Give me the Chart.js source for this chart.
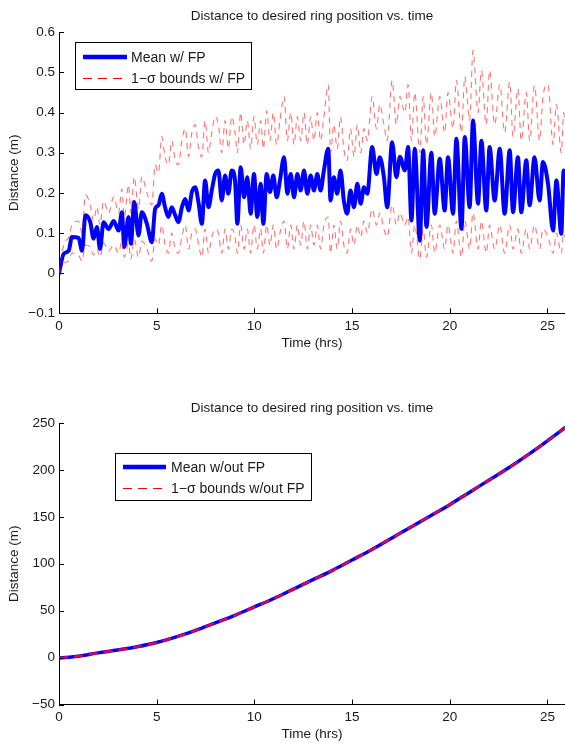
<!DOCTYPE html>
<html><head><meta charset="utf-8">
<script src="https://cdn.jsdelivr.net/npm/chart.js@4.4.1/dist/chart.umd.min.js"></script>
<style>
html,body{margin:0;padding:0;background:#fff;overflow:hidden;}
#wrap{position:relative;width:565px;height:743px;}
canvas{position:absolute;left:0;top:0;}
</style></head><body>
<div id="wrap"><canvas id="c1" width="565" height="743"></canvas><canvas id="c2" width="565" height="743"></canvas></div>
<script>
const titleText = 'Distance to desired ring position vs. time';
const xTitle = 'Time (hrs)';
const yTitle = 'Distance (m)';
const xTickValues = [0,5,10,15,20,25];
const xTickLabels = ['0','5','10','15','20','25'];
const yTickValuesTop = [-0.1,0,0.1,0.2,0.3,0.4,0.5,0.6];
const yTickLabelsTop = ['\u22120.1','0','0.1','0.2','0.3','0.4','0.5','0.6'];
const yTickValuesBottom = [-50,0,50,100,150,200,250];
const yTickLabelsBottom = ['\u221250','0','50','100','150','200','250'];

// ---- top panel: with FP ----
const timeTop = [
 0,0.24,0.5,0.66,1.0,1.18,1.35,1.6,1.77,1.94,
 2.1,2.28,2.54,2.8,3.05,3.22,3.34,3.56,3.68,3.85,
 4.07,4.24,4.5,4.75,4.92,5.09,
 5.26,5.43,5.6,5.77,5.95,6.11,6.29,6.46,6.63,6.8,
 6.97,7.15,7.31,7.48,7.65,7.82,7.99,8.16,8.33,8.5,
 8.67,8.84,9.01,9.13,9.3,9.47,9.64,9.81,9.98,10.15,
 10.32,10.46,10.63,10.8,10.97,11.14,11.31,11.52,11.69,11.86,
 12.03,12.2,12.37,12.54,12.71,12.88,13.05,13.22,13.39,13.56,
 13.78,13.9,14.07,14.24,14.41,14.58,14.75,14.92,15.1,15.27,
 15.44,15.61,15.78,16.03,16.25,16.42,16.63,16.8,17.05,17.27,
 17.45,17.7,17.87,18.04,18.21,18.47,18.64,18.81,
 19.06,19.23,19.49,19.74,19.91,20.17,20.34,20.6,20.77,21.02,
 21.19,21.45,21.62,21.87,22.04,22.3,22.56,22.81,23.07,23.24,
 23.49,23.66,23.92,24.09,24.34,24.6,24.77,25.03,25.29,25.46,
 25.71,25.83,25.9];
const meanFP = [
 0,0.048,0.056,0.09,0.088,0.056,0.144,0.127,0.086,0.115,
 0.06,0.127,0.11,0.13,0.106,0.152,0.065,0.14,0.073,0.177,
 0.094,0.152,0.123,0.077,0.16,0.169,
 0.198,0.164,0.14,0.164,0.144,0.127,0.164,0.185,0.156,0.202,
 0.214,0.173,0.123,0.231,0.164,0.206,0.247,0.256,0.181,0.243,
 0.198,0.256,0.231,0.123,0.264,0.189,0.239,0.148,0.247,0.14,
 0.223,0.123,0.247,0.202,0.243,0.189,0.231,0.289,0.198,0.247,
 0.189,0.247,0.206,0.256,0.198,0.243,0.206,0.247,0.206,0.256,
 0.31,0.181,0.239,0.198,0.256,0.181,0.148,0.206,0.164,0.223,
 0.173,0.214,0.198,0.314,0.247,0.289,0.239,0.164,0.326,0.239,
 0.29,0.256,0.314,0.131,0.31,0.081,0.306,0.115,
 0.30,0.148,0.285,0.156,0.289,0.148,0.335,0.11,0.339,0.164,
 0.38,0.173,0.33,0.156,0.314,0.181,0.31,0.148,0.306,0.152,
 0.289,0.152,0.281,0.169,0.289,0.181,0.277,0.223,0.106,0.231,
 0.098,0.256,0.22];
const upperFP = [
 0,0.07,0.09,0.12,0.13,0.10,0.195,0.17,0.13,0.165,
 0.12,0.18,0.15,0.19,0.15,0.21,0.14,0.22,0.15,0.24,
 0.16,0.24,0.2,0.17,0.27,0.25,
 0.34,0.29,0.27,0.33,0.28,0.27,0.33,0.36,0.29,0.35,
 0.37,0.31,0.29,0.38,0.3,0.35,0.39,0.37,0.3,0.38,
 0.31,0.39,0.35,0.3,0.4,0.32,0.38,0.31,0.39,0.32,
 0.38,0.31,0.405,0.33,0.4,0.32,0.38,0.44,0.33,0.4,
 0.32,0.39,0.33,0.4,0.32,0.39,0.33,0.4,0.33,0.39,
 0.47,0.3,0.37,0.31,0.39,0.31,0.28,0.36,0.29,0.37,
 0.3,0.36,0.33,0.44,0.36,0.42,0.37,0.33,0.48,0.37,
 0.44,0.4,0.47,0.33,0.45,0.3,0.44,0.32,
 0.45,0.34,0.44,0.35,0.45,0.36,0.48,0.35,0.49,0.38,
 0.555,0.4,0.505,0.37,0.505,0.37,0.47,0.35,0.476,0.34,
 0.46,0.33,0.45,0.33,0.467,0.33,0.44,0.47,0.32,0.42,
 0.3,0.4,0.38];
const lowerFP = [
 0,0.025,0.03,0.05,0.045,0.03,0.07,0.065,0.045,0.06,
 0.04,0.075,0.055,0.07,0.05,0.08,0.04,0.075,0.035,0.085,
 0.04,0.08,0.06,0.03,0.085,0.07,
 0.12,0.07,0.05,0.1,0.06,0.05,0.09,0.12,0.06,0.1,
 0.11,0.07,0.04,0.11,0.05,0.09,0.11,0.1,0.05,0.11,
 0.06,0.11,0.09,0.05,0.12,0.06,0.11,0.05,0.12,0.06,
 0.11,0.05,0.12,0.07,0.12,0.06,0.1,0.13,0.06,0.12,
 0.06,0.12,0.07,0.13,0.06,0.12,0.07,0.12,0.06,0.12,
 0.14,0.05,0.12,0.06,0.13,0.07,0.05,0.11,0.07,0.12,
 0.09,0.13,0.1,0.16,0.12,0.15,0.11,0.09,0.17,0.12,
 0.15,0.12,0.14,0.05,0.12,0.035,0.11,0.04,
 0.12,0.05,0.12,0.06,0.12,0.05,0.13,0.04,0.13,0.06,
 0.15,0.06,0.13,0.05,0.12,0.06,0.12,0.05,0.12,0.06,
 0.11,0.05,0.11,0.06,0.12,0.06,0.11,0.09,0.05,0.1,
 0.05,0.1,0.09];

// ---- bottom panel: without FP ----
const timeBottom = [0,1,2,3,4,5,6,7,8,9,10,11,12,13,14,15,16,17,18,19,20,21,22,23,24,25,25.9];
const meanNoFP  = [-0.5,1.5,5,8,11.5,16,22,29,37,45,54,63,73,83,93,104,115,127,139,151,163,176,189,202,216,231,245];
const upperNoFP = [0,2,5.5,8.5,12,16.5,22.5,29.5,37.5,45.5,54.5,63.5,73.5,83.5,93.5,104.5,115.5,127.5,139.5,151.5,163.5,176.5,189.5,202.5,216.5,231.5,245.5];
const lowerNoFP = [-1,1,4.5,7.5,11,15.5,21.5,28.5,36.5,44.5,53.5,62.5,72.5,82.5,92.5,103.5,114.5,126.5,138.5,150.5,162.5,175.5,188.5,201.5,215.5,230.5,244.5];

const FONT = "'Liberation Sans', Arial, Helvetica, sans-serif";
const TXT = '#1a1a1a';
const pts = (xs, ys) => xs.map((x, i) => ({x: x, y: ys[i]}));

const titlePlugin = {
  id: 'axTitle',
  afterDraw(chart, args, o) {
    const ctx = chart.ctx, ca = chart.chartArea;
    ctx.save();
    ctx.font = '13.5px ' + FONT; ctx.fillStyle = TXT;
    ctx.textAlign = 'center'; ctx.textBaseline = 'middle';
    ctx.fillText(o.text, (ca.left + ca.right) / 2, o.y);
    ctx.restore();
  }
};
const tickPlugin = {
  id: 'inTicks',
  afterDraw(chart) {
    const ctx = chart.ctx, ca = chart.chartArea, sx = chart.scales.x, sy = chart.scales.y;
    ctx.save();
    ctx.strokeStyle = '#000'; ctx.lineWidth = 1; ctx.setLineDash([]);
    ctx.beginPath();
    sx.ticks.forEach(t => { const p = Math.round(sx.getPixelForValue(t.value)) + 0.5; ctx.moveTo(p, ca.bottom); ctx.lineTo(p, ca.bottom - 5); });
    sy.ticks.forEach(t => { const p = Math.round(sy.getPixelForValue(t.value)) + 0.5; ctx.moveTo(ca.left, p); ctx.lineTo(ca.left + 5, p); });
    ctx.stroke();
    ctx.restore();
  }
};
const legendPlugin = {
  id: 'boxLegend',
  afterDraw(chart, args, o) {
    const ctx = chart.ctx;
    ctx.save();
    ctx.fillStyle = '#fff'; ctx.fillRect(o.x, o.y, o.w, o.h);
    ctx.strokeStyle = '#000'; ctx.lineWidth = 1; ctx.setLineDash([]);
    ctx.strokeRect(o.x + 0.5, o.y + 0.5, o.w, o.h);
    o.items.forEach((di, k) => {
      const ds = chart.data.datasets[di];
      const y = o.rows[k];
      ctx.beginPath();
      ctx.strokeStyle = ds.legendColor || ds.borderColor;
      ctx.lineWidth = ds.legendWidth || ds.borderWidth;
      ctx.setLineDash(ds.legendDash || []);
      ctx.moveTo(o.lineX0, y); ctx.lineTo(o.lineX1, y); ctx.stroke();
      ctx.setLineDash([]);
      ctx.fillStyle = TXT; ctx.font = '14px ' + FONT;
      ctx.textAlign = 'left'; ctx.textBaseline = 'middle';
      ctx.fillText(ds.label, o.textX, y + 1);
    });
    ctx.restore();
  }
};

function makeScales(yMin, yMax, yVals, yLabels) {
  const tickFont = {family: FONT, size: 13.5};
  return {
    x: {
      type: 'linear', min: 0, max: 25.9,
      afterBuildTicks: s => { s.ticks = xTickValues.map(v => ({value: v})); },
      afterFit: s => { s.height = 38; },
      grid: {display: false, drawTicks: false},
      border: {display: true, color: '#000', width: 1},
      ticks: {padding: 5, font: tickFont, color: TXT, autoSkip: false, maxRotation: 0,
              callback: (v, i) => xTickLabels[i]},
      title: {display: true, text: xTitle, font: tickFont, color: TXT, padding: {top: 0, bottom: 0}}
    },
    y: {
      type: 'linear', min: yMin, max: yMax,
      afterBuildTicks: s => { s.ticks = yVals.map(v => ({value: v})); },
      afterFit: s => { s.width = 59; },
      grid: {display: false, drawTicks: false},
      border: {display: true, color: '#000', width: 1},
      ticks: {padding: 4, font: tickFont, color: TXT, autoSkip: false,
              callback: (v, i) => yLabels[i]},
      title: {display: true, text: yTitle, font: tickFont, color: TXT, padding: {top: 6, bottom: 0}}
    }
  };
}

const common = {
  responsive: false, animation: false, devicePixelRatio: 1,
  events: [],
  plugins: {legend: {display: false}, tooltip: {enabled: false}, title: {display: false}},
  elements: {point: {radius: 0}, line: {cubicInterpolationMode: 'monotone'}}
};

new Chart(document.getElementById('c1'), {
  type: 'line',
  data: {datasets: [
    {label: 'Mean w/ FP', data: pts(timeTop, meanFP), borderColor: '#0000ff', borderWidth: 4,
     borderCapStyle: 'round', borderJoinStyle: 'round', order: 1, legendWidth: 4.5},
    {label: '1\u2212\u03c3 bounds w/ FP', data: pts(timeTop, upperFP), borderColor: 'rgba(255,0,0,0.55)',
     borderWidth: 1.1, borderDash: [6, 5], order: 0, legendColor: '#ff0000', legendWidth: 1, legendDash: [9, 6]},
    {label: '1\u2212\u03c3 bounds w/ FP', data: pts(timeTop, lowerFP), borderColor: 'rgba(255,0,0,0.55)',
     borderWidth: 1.1, borderDash: [6, 5], order: 0}
  ]},
  options: Object.assign({}, common, {
    layout: {padding: {left: 0, right: 0, top: 32.3, bottom: 743 - 313.3 - 38}},
    scales: makeScales(-0.1, 0.6, yTickValuesTop, yTickLabelsTop),
    plugins: Object.assign({}, common.plugins, {
      axTitle: {text: titleText, y: 16.5},
      boxLegend: {x: 75, y: 42, w: 176, h: 47, rows: [57, 78.5], items: [0, 1], lineX0: 83, lineX1: 127, textX: 131}
    })
  }),
  plugins: [titlePlugin, tickPlugin, legendPlugin]
});

new Chart(document.getElementById('c2'), {
  type: 'line',
  data: {datasets: [
    {label: 'Mean w/out FP', data: pts(timeBottom, meanNoFP), borderColor: '#0000ff', borderWidth: 3.5,
     borderCapStyle: 'round', order: 1, legendWidth: 4.5},
    {label: '1\u2212\u03c3 bounds w/out FP', data: pts(timeBottom, upperNoFP), borderColor: 'rgba(255,0,60,0.85)',
     borderWidth: 1.6, borderDash: [9, 6], order: 0, legendColor: '#ff0000', legendWidth: 1, legendDash: [9, 6]},
    {label: '1\u2212\u03c3 bounds w/out FP', data: pts(timeBottom, lowerNoFP), borderColor: 'rgba(255,0,60,0.85)',
     borderWidth: 1.6, borderDash: [9, 6], order: 0}
  ]},
  options: Object.assign({}, common, {
    layout: {padding: {left: 0, right: 0, top: 423, bottom: 743 - 704.5 - 38}},
    scales: makeScales(-50, 250, yTickValuesBottom, yTickLabelsBottom),
    plugins: Object.assign({}, common.plugins, {
      axTitle: {text: titleText, y: 408.5},
      boxLegend: {x: 115, y: 453, w: 196, h: 47, rows: [467, 488.5], items: [0, 1], lineX0: 123, lineX1: 166, textX: 171}
    })
  }),
  plugins: [titlePlugin, tickPlugin, legendPlugin]
});
</script>
</body></html>
